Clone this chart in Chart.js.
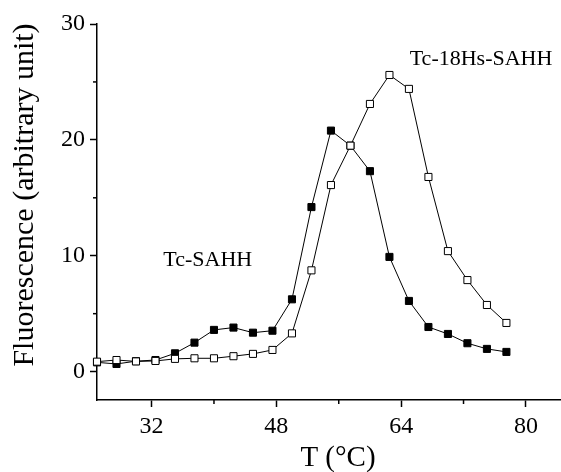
<!DOCTYPE html>
<html lang="en">
<head>
    <meta charset="UTF-8">
    <title>Fluorescence vs Temperature</title>
    <script src="https://cdnjs.cloudflare.com/ajax/libs/Chart.js/4.4.1/chart.umd.min.js"></script>
    <style>
        body {
            margin: 0;
            padding: 0;
            background: #ffffff;
        }
        .chart-container {
            position: relative;
            width: 561px;
            height: 472px;
        }
    </style>
</head>
<body>
    <div class="chart-container">
        <canvas id="meltChart"></canvas>
    </div>

    <script>
        // Temperatures (°C) and fluorescence readings
        const temps = [25, 27.5, 30, 32.5, 35, 37.5, 40, 42.5, 45, 47.5, 50,
                       52.5, 55, 57.5, 60, 62.5, 65, 67.5, 70, 72.5, 75, 77.5];

        const tcSahh = [0.8, 0.66, 0.9, 1.0, 1.58, 2.5, 3.6, 3.8, 3.36, 3.53, 6.24,
                        14.2, 20.8, 19.5, 17.3, 9.9, 6.1, 3.85, 3.25, 2.45, 1.96, 1.7];

        const tc18HsSahh = [0.86, 1.0, 0.88, 0.92, 1.1, 1.15, 1.15, 1.33, 1.53, 1.87, 3.3,
                            8.74, 16.1, 19.5, 23.1, 25.6, 24.4, 16.8, 10.4, 7.9, 5.75, 4.2];

        const xMajorTicks = [32, 48, 64, 80];
        const xMinorTicks = [40, 56, 72];
        const yMajorTicks = [0, 10, 20, 30];
        const yMinorTicks = [5, 15, 25];

        const xTitle = 'T (°C)';
        const yTitle = 'Fluorescence (arbitrary unit)';

        // curve labels: [text, x value, y value]
        const curveLabels = [
            ['Tc-18Hs-SAHH', 65.1, 27.0],
            ['Tc-SAHH', 33.5, 9.6]
        ];

        const serif = "'Liberation Serif', serif";

        // minor ticks, axis titles and the curve labels
        const extrasPlugin = {
            id: 'extras',
            afterDraw(chart) {
                const ctx = chart.ctx;
                const xs = chart.scales.x;
                const ys = chart.scales.y;
                const area = chart.chartArea;
                ctx.save();
                ctx.strokeStyle = '#000';
                ctx.lineWidth = 1.5;
                xMinorTicks.forEach(v => {
                    const px = xs.getPixelForValue(v);
                    ctx.beginPath();
                    ctx.moveTo(px, area.bottom);
                    ctx.lineTo(px, area.bottom + 4);
                    ctx.stroke();
                });
                yMinorTicks.forEach(v => {
                    const py = ys.getPixelForValue(v);
                    ctx.beginPath();
                    ctx.moveTo(area.left, py);
                    ctx.lineTo(area.left - 4, py);
                    ctx.stroke();
                });

                ctx.fillStyle = '#000';
                ctx.font = '22px ' + serif;
                ctx.textBaseline = 'middle';
                ctx.textAlign = 'left';
                curveLabels.forEach(l => {
                    ctx.fillText(l[0], xs.getPixelForValue(l[1]), ys.getPixelForValue(l[2]));
                });

                // axis titles, placed a little off-centre as in the original
                ctx.textAlign = 'center';
                ctx.textBaseline = 'alphabetic';
                ctx.font = '29px ' + serif;
                ctx.fillText(xTitle, (area.left + area.right) / 2 + 9, area.bottom + 66);

                ctx.font = '30px ' + serif;
                ctx.translate(area.left - 64, (area.top + area.bottom) / 2 - 17);
                ctx.rotate(-Math.PI / 2);
                ctx.fillText(yTitle, 0, 0);
                ctx.restore();
            }
        };

        function drawChart() {
            const ctx = document.getElementById('meltChart').getContext('2d');
            new Chart(ctx, {
                type: 'line',
                data: {
                    datasets: [{
                        label: 'Tc-18Hs-SAHH',
                        data: temps.map((t, i) => ({ x: t, y: tc18HsSahh[i] })),
                        borderColor: '#000',
                        borderWidth: 1,
                        pointStyle: 'rect',
                        pointRadius: 5,
                        pointBorderWidth: 1,
                        pointBackgroundColor: '#fff',
                        pointBorderColor: '#000',
                        tension: 0
                    }, {
                        label: 'Tc-SAHH',
                        data: temps.map((t, i) => ({ x: t, y: tcSahh[i] })),
                        borderColor: '#000',
                        borderWidth: 1,
                        pointStyle: 'rect',
                        pointRadius: 5,
                        pointBorderWidth: 1,
                        pointBackgroundColor: '#000',
                        pointBorderColor: '#000',
                        tension: 0
                    }]
                },
                options: {
                    responsive: true,
                    maintainAspectRatio: false,
                    animation: false,
                    clip: false,
                    layout: {
                        autoPadding: false,
                        padding: { top: 24, right: 0, left: 0, bottom: 0 }
                    },
                    plugins: {
                        legend: { display: false },
                        tooltip: { enabled: false }
                    },
                    scales: {
                        x: {
                            type: 'linear',
                            min: 25,
                            max: 84.5,
                            afterBuildTicks: (scale) => {
                                scale.ticks = xMajorTicks.map(v => ({ value: v }));
                            },
                            afterFit: (scale) => { scale.height = 72; },
                            grid: {
                                drawOnChartArea: false,
                                tickLength: 7,
                                tickWidth: 1.5,
                                tickColor: '#000'
                            },
                            border: { display: true, color: '#000', width: 1.5 },
                            ticks: {
                                color: '#000',
                                padding: 5,
                                maxRotation: 0,
                                font: { family: serif, size: 24 }
                            }
                        },
                        y: {
                            min: -2.45,
                            max: 30,
                            afterBuildTicks: (scale) => {
                                scale.ticks = yMajorTicks.map(v => ({ value: v }));
                            },
                            afterFit: (scale) => { scale.width = 97; },
                            grid: {
                                drawOnChartArea: false,
                                tickLength: 7,
                                tickWidth: 1.5,
                                tickColor: '#000'
                            },
                            border: { display: true, color: '#000', width: 1.5 },
                            ticks: {
                                color: '#000',
                                padding: 5,
                                font: { family: serif, size: 24 }
                            }
                        }
                    }
                },
                plugins: [extrasPlugin]
            });
        }

        // make sure the serif face is ready before the canvas uses it
        Promise.all([
            document.fonts.load("24px 'Liberation Serif'"),
            document.fonts.load("30px 'Liberation Serif'")
        ]).then(drawChart, drawChart);
    </script>
</body>
</html>
